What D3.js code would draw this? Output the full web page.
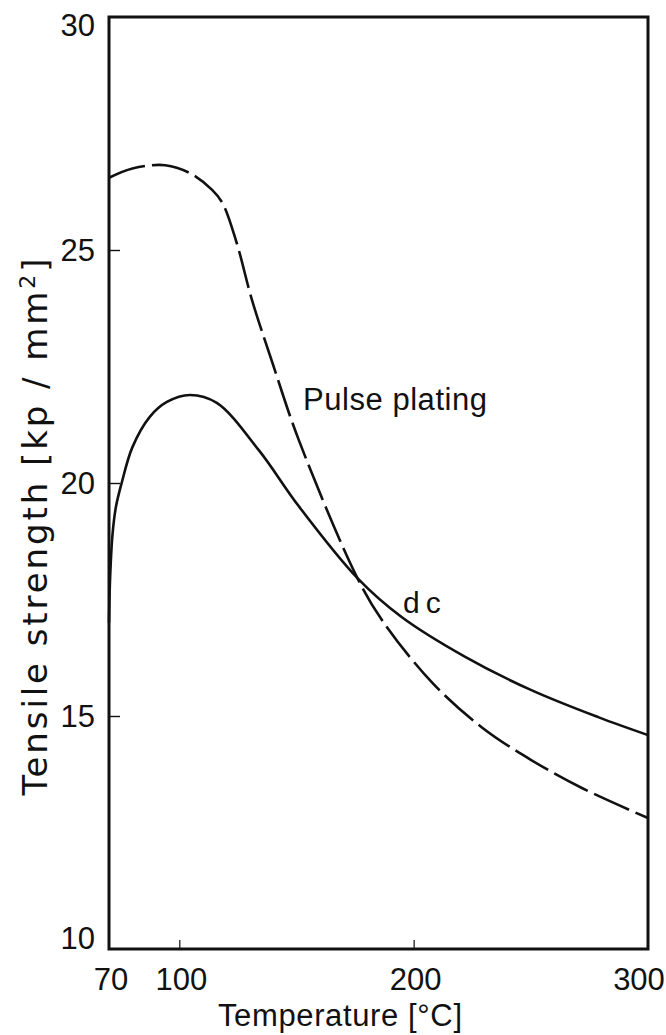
<!DOCTYPE html>
<html><head><meta charset="utf-8">
<script src="https://cdn.jsdelivr.net/npm/d3@7"></script>
<style>body{margin:0;background:#fff}svg{display:block}text{fill:#111}</style>
</head><body><svg id="c" width="666" height="1035"></svg>
<script>
const xTicks = [70, 100, 200, 300];
const yTicks = [10, 15, 20, 25, 30];
const dcTemp = [70, 70.5, 71.5, 73, 75.4, 80, 87.4, 94.7, 104.5, 116, 134, 151, 176, 195, 222, 250, 279, 300];
const dcVal  = [17.0, 18.0, 18.9, 19.5, 20.0, 20.77, 21.42, 21.74, 21.89, 21.72, 20.7, 19.5, 17.96, 17.12, 16.27, 15.56, 14.97, 14.59];
const pulseTemp = [70, 80, 94, 104.5, 114, 118.5, 124.5, 131, 139.8, 151, 176, 186.6, 208, 229, 250, 272, 300];
const pulseVal  = [26.55, 26.75, 26.82, 26.65, 26.29, 26.0, 25.15, 23.93, 22.57, 20.92, 17.96, 17.05, 15.71, 14.76, 14.06, 13.45, 12.81];
const labels = {x: "Temperature  [°C]", y1: "Tensile strength  [kp / mm", y2: "]", pulse: "Pulse plating", dc: "dc"};

const svg = d3.select("#c");
const FONT = "'Liberation Sans', Arial, sans-serif";
const L = 109, R = 648, T = 17, B = 949;
const x = d3.scaleLinear().domain([70, 300]).range([L, R]);
const y = d3.scaleLinear().domain([10, 30]).range([B, T]);

// frame
svg.append("rect").attr("x", L).attr("y", T).attr("width", R - L).attr("height", B - T)
  .attr("fill", "none").attr("stroke", "#111").attr("stroke-width", 3);

// y axis ticks (inward)
const ya = svg.append("g").attr("transform", `translate(${L},0)`)
  .call(d3.axisRight(y).tickValues(yTicks.filter(v => v > 10 && v < 30)).tickSize(11).tickFormat(""));
ya.select(".domain").remove();
ya.selectAll("line").attr("stroke", "#111").attr("stroke-width", 1.4);
// x axis ticks (inward)
const xa = svg.append("g").attr("transform", `translate(0,${B})`)
  .call(d3.axisTop(x).tickValues(xTicks.filter(v => v > 70 && v < 300)).tickSize(9).tickFormat(""));
xa.select(".domain").remove();
xa.selectAll("line").attr("stroke", "#111").attr("stroke-width", 1.2);

// tick labels
svg.append("g").selectAll("text").data(yTicks).join("text")
  .attr("font-family", FONT)
  .attr("x", 95).attr("y", d => Math.min(Math.max(y(d), T + 8), B - 11))
  .attr("dy", "0.36em").attr("text-anchor", "end").attr("font-size", 31).text(d => d);
svg.append("g").selectAll("text").data(xTicks).join("text")
  .attr("font-family", FONT)
  .attr("x", d => Math.min(x(d) + 2, R - 9)).attr("y", 979).attr("dy", "0.36em")
  .attr("text-anchor", "middle").attr("font-size", 31).text(d => d);

// axis titles
svg.append("text").attr("font-family", FONT).attr("x", 340).attr("y", 1026).attr("text-anchor", "middle")
  .attr("font-size", 31).attr("textLength", 244).attr("lengthAdjust", "spacing").text(labels.x);
const yt = svg.append("text").attr("transform", `translate(47,527) rotate(-90)`)
  .attr("text-anchor", "middle").attr("font-size", 34)
  .attr("font-family", "'DejaVu Sans', sans-serif")
  .attr("textLength", 537).attr("lengthAdjust", "spacing");
yt.append("tspan").text(labels.y1);
yt.append("tspan").attr("dy", -12).attr("font-size", 22).text("2");
yt.append("tspan").attr("dy", 12).text(labels.y2);

// curves
const line = d3.line().x(d => x(d[0])).y(d => y(d[1])).curve(d3.curveCatmullRom.alpha(0.5));
svg.append("path").datum(d3.zip(dcTemp, dcVal)).attr("d", line)
  .attr("fill", "none").attr("stroke", "#111").attr("stroke-width", 2.6);
svg.append("path").datum(d3.zip(pulseTemp, pulseVal)).attr("d", line)
  .attr("fill", "none").attr("stroke", "#111").attr("stroke-width", 2.6)
  .attr("stroke-dasharray", "38,7");

// series labels
svg.append("text").attr("font-family", FONT).attr("x", 303).attr("y", 410).attr("font-size", 31)
  .attr("textLength", 184).attr("lengthAdjust", "spacing").text(labels.pulse);
svg.append("text").attr("font-family", FONT).attr("x", 403).attr("y", 613).attr("font-size", 30)
  .attr("letter-spacing", 6).text(labels.dc);
</script></body></html>
